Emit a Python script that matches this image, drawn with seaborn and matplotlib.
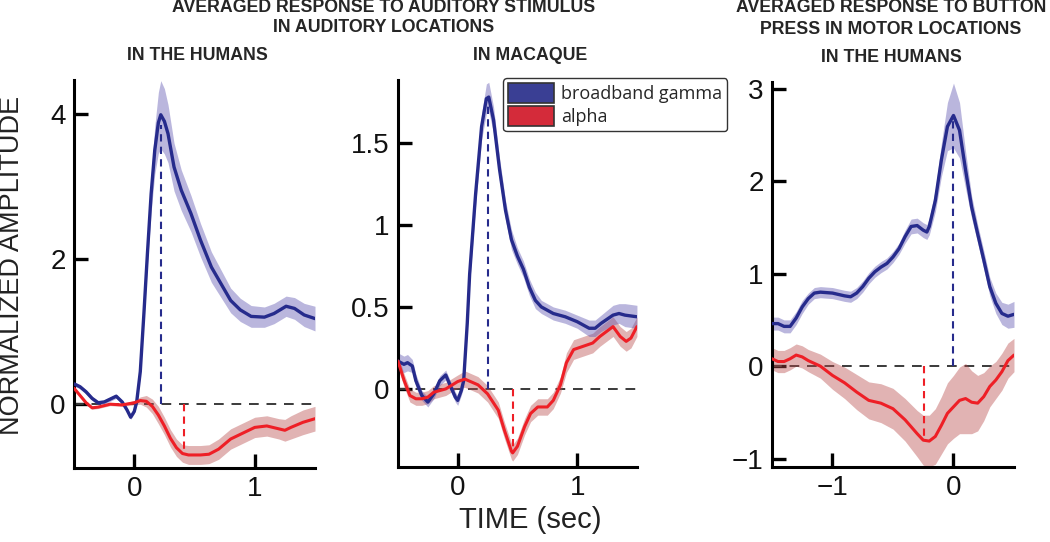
import matplotlib
matplotlib.use("Agg")
import matplotlib.pyplot as plt
from matplotlib.patches import Patch
import numpy as np
import pandas as pd
import seaborn as sns

# ---- data ----
# panel 1: auditory stimulus, humans
p1_gamma_t = [-0.5, -0.45, -0.4, -0.35, -0.3, -0.25, -0.2, -0.15, -0.1, -0.06, -0.03, 0.0,
              0.02, 0.05, 0.08, 0.11, 0.14, 0.17, 0.2, 0.22, 0.25, 0.28, 0.33, 0.39, 0.47,
              0.55, 0.64, 0.72, 0.8, 0.88, 0.97, 1.08, 1.16, 1.26, 1.33, 1.41, 1.5]
p1_gamma = [0.28, 0.24, 0.17, 0.08, 0.02, 0.03, 0.07, 0.11, 0.03, -0.08, -0.18, -0.1,
            0.03, 0.45, 1.25, 2.1, 2.9, 3.5, 3.88, 3.99, 3.9, 3.73, 3.27, 2.95, 2.63,
            2.26, 1.89, 1.66, 1.43, 1.30, 1.21, 1.20, 1.25, 1.35, 1.32, 1.23, 1.18]
p1_gamma_err = [0.03, 0.03, 0.03, 0.03, 0.03, 0.03, 0.03, 0.03, 0.03, 0.03, 0.03, 0.03,
                0.04, 0.06, 0.1, 0.16, 0.25, 0.33, 0.42, 0.47, 0.45, 0.4, 0.33, 0.28, 0.25,
                0.23, 0.21, 0.19, 0.17, 0.16, 0.15, 0.14, 0.14, 0.14, 0.15, 0.16, 0.17]
p1_alpha_t = [-0.5, -0.45, -0.4, -0.35, -0.3, -0.2, -0.1, 0.0, 0.05, 0.1, 0.15, 0.2, 0.25,
              0.3, 0.35, 0.4, 0.45, 0.55, 0.62, 0.7, 0.8, 0.9, 1.0, 1.1, 1.2, 1.25, 1.3,
              1.4, 1.5]
p1_alpha = [0.22, 0.12, 0.02, -0.05, -0.04, 0.0, -0.01, 0.02, 0.05, 0.04, -0.03, -0.15, -0.3,
            -0.47, -0.6, -0.68, -0.7, -0.7, -0.69, -0.62, -0.48, -0.4, -0.32, -0.3, -0.34,
            -0.36, -0.32, -0.25, -0.2]
p1_alpha_err = [0.02, 0.02, 0.02, 0.02, 0.02, 0.02, 0.02, 0.03, 0.05, 0.08, 0.1, 0.12, 0.12,
                0.12, 0.12, 0.12, 0.13, 0.13, 0.13, 0.14, 0.14, 0.14, 0.14, 0.14, 0.14,
                0.15, 0.16, 0.17, 0.17]
p1_peaks = {"gamma": (0.22, 3.85), "alpha": (0.41, -0.69)}

# panel 2: auditory stimulus, macaque
p2_gamma_t = [-0.5, -0.45, -0.42, -0.38, -0.35, -0.3, -0.25, -0.2, -0.15, -0.1, -0.05, -0.02,
              0.0, 0.03, 0.05, 0.08, 0.1, 0.15, 0.2, 0.24, 0.26, 0.3, 0.35, 0.4, 0.45, 0.5,
              0.55, 0.6, 0.65, 0.7, 0.8, 0.9, 1.0, 1.1, 1.15, 1.2, 1.3, 1.35, 1.4, 1.5]
p2_gamma = [0.17, 0.15, 0.16, 0.14, 0.05, -0.04, -0.08, -0.03, 0.05, 0.085, 0.0, -0.05,
            -0.07, -0.01, 0.05, 0.4, 0.7, 1.19, 1.6, 1.77, 1.78, 1.64, 1.34, 1.09, 0.91, 0.81,
            0.73, 0.62, 0.54, 0.5, 0.46, 0.44, 0.41, 0.37, 0.37, 0.4, 0.45, 0.46, 0.45, 0.44]
p2_gamma_err = [0.05, 0.05, 0.05, 0.04, 0.04, 0.03, 0.03, 0.03, 0.03, 0.03, 0.03, 0.03,
                0.03, 0.03, 0.04, 0.05, 0.06, 0.07, 0.08, 0.09, 0.09, 0.08, 0.07, 0.06, 0.06,
                0.05, 0.05, 0.05, 0.05, 0.04, 0.04, 0.04, 0.04, 0.05, 0.05, 0.05, 0.06, 0.06,
                0.07, 0.07]
p2_alpha_t = [-0.5, -0.45, -0.4, -0.35, -0.3, -0.25, -0.2, -0.1, 0.0, 0.06, 0.17, 0.25, 0.34,
              0.39, 0.45, 0.46, 0.5, 0.56, 0.61, 0.67, 0.75, 0.8, 0.86, 0.91, 0.97, 1.05,
              1.13, 1.19, 1.3, 1.36, 1.41, 1.45, 1.5]
p2_alpha = [0.17, 0.055, -0.04, -0.06, -0.06, -0.05, -0.02, 0.0, 0.045, 0.06, 0.025, -0.03,
            -0.13, -0.25, -0.38, -0.39, -0.35, -0.23, -0.15, -0.11, -0.11, -0.07, 0.025, 0.16,
            0.24, 0.26, 0.28, 0.32, 0.38, 0.32, 0.29, 0.31, 0.38]
p2_alpha_err = [0.04, 0.04, 0.04, 0.04, 0.04, 0.04, 0.04, 0.04, 0.04, 0.05, 0.05, 0.05, 0.05,
                0.05, 0.05, 0.05, 0.05, 0.05, 0.05, 0.05, 0.05, 0.05, 0.05, 0.06, 0.06, 0.06,
                0.06, 0.06, 0.06, 0.06, 0.06, 0.06, 0.06]
p2_peaks = {"gamma": (0.255, 1.75), "alpha": (0.46, -0.38)}

# panel 3: button press, humans
p3_gamma_t = [-1.5, -1.45, -1.4, -1.35, -1.3, -1.25, -1.2, -1.15, -1.1, -1.0, -0.9, -0.85,
              -0.8, -0.75, -0.7, -0.65, -0.6, -0.55, -0.5, -0.45, -0.4, -0.35, -0.3, -0.25,
              -0.22, -0.2, -0.15, -0.1, -0.05, 0.0, 0.05, 0.1, 0.15, 0.2, 0.25, 0.3, 0.35,
              0.4, 0.45, 0.5]
p3_gamma = [0.46, 0.46, 0.43, 0.43, 0.52, 0.64, 0.73, 0.79, 0.80, 0.79, 0.76, 0.75,
            0.79, 0.86, 0.95, 1.02, 1.07, 1.11, 1.18, 1.27, 1.4, 1.51, 1.52, 1.47,
            1.45, 1.51, 1.79, 2.23, 2.59, 2.71, 2.55, 2.12, 1.72, 1.43, 1.15, 0.86, 0.68,
            0.57, 0.54, 0.56]
p3_gamma_err = [0.07, 0.07, 0.07, 0.07, 0.07, 0.07, 0.06, 0.06, 0.06, 0.06, 0.06, 0.06,
                0.06, 0.06, 0.06, 0.06, 0.06, 0.06, 0.06, 0.06, 0.07, 0.08, 0.08, 0.08,
                0.08, 0.09, 0.12, 0.18, 0.26, 0.35, 0.3, 0.2, 0.12, 0.1, 0.1, 0.1, 0.11,
                0.12, 0.13, 0.14]
p3_alpha_t = [-1.5, -1.45, -1.4, -1.35, -1.3, -1.25, -1.2, -1.1, -1.0, -0.9, -0.8, -0.7,
              -0.6, -0.5, -0.4, -0.3, -0.25, -0.2, -0.15, -0.1, -0.05, 0.0, 0.05, 0.1, 0.15,
              0.2, 0.25, 0.3, 0.35, 0.4, 0.45, 0.5]
p3_alpha = [0.08, 0.05, 0.05, 0.08, 0.12, 0.10, 0.06, 0.0, -0.1, -0.18, -0.28, -0.37,
            -0.40, -0.46, -0.58, -0.73, -0.80, -0.81, -0.76, -0.64, -0.51, -0.44, -0.37,
            -0.35, -0.39, -0.40, -0.33, -0.22, -0.15, -0.06, 0.06, 0.12]
p3_alpha_err = [0.12, 0.12, 0.12, 0.12, 0.12, 0.12, 0.12, 0.13, 0.15, 0.17, 0.19, 0.2,
                0.21, 0.22, 0.23, 0.25, 0.27, 0.28, 0.3, 0.31, 0.33, 0.34, 0.36, 0.38, 0.34,
                0.3, 0.26, 0.22, 0.2, 0.2, 0.19, 0.18]
p3_peaks = {"gamma": (0.0, 2.65), "alpha": (-0.24, -0.8)}

labels = {"gamma": "broadband gamma", "alpha": "alpha"}

# ---- style ----
line_colors = {"gamma": "#262b8c", "alpha": "#ee1f26"}
fill_colors = {"gamma": "#5b52b0", "alpha": "#b84a4a"}
legend_colors = {"gamma": "#3a3f94", "alpha": "#d42b3a"}

sns.set_style("ticks")
plt.rcParams["font.family"] = ["Liberation Sans", "DejaVu Sans"]

fig = plt.figure(figsize=(10.5, 5.42), dpi=100)

panels = [
    dict(rect=[0.0705, 0.1365, 0.2295, 0.716], xlim=(-0.5, 1.5), ylim=(-0.88, 4.47),
         xticks=[0, 1], yticks=[0, 2, 4], ytl=["0", "2", "4"],
         gamma=(p1_gamma_t, p1_gamma, p1_gamma_err), alpha=(p1_alpha_t, p1_alpha, p1_alpha_err),
         peaks=p1_peaks),
    dict(rect=[0.379, 0.1384, 0.2276, 0.714], xlim=(-0.5, 1.5), ylim=(-0.476, 1.884),
         xticks=[0, 1], yticks=[0, 0.5, 1, 1.5], ytl=["0", "0.5", "1", "1.5"],
         gamma=(p2_gamma_t, p2_gamma, p2_gamma_err), alpha=(p2_alpha_t, p2_alpha, p2_alpha_err),
         peaks=p2_peaks),
    dict(rect=[0.7352, 0.1384, 0.2305, 0.710], xlim=(-1.5, 0.5), ylim=(-1.09, 3.07),
         xticks=[-1, 0], yticks=[-1, 0, 1, 2, 3], ytl=["\u22121", "0", "1", "2", "3"],
         gamma=(p3_gamma_t, p3_gamma, p3_gamma_err), alpha=(p3_alpha_t, p3_alpha, p3_alpha_err),
         peaks=p3_peaks),
]

for p in panels:
    ax = fig.add_axes(p["rect"])
    ax.axhline(0, color="#3a3a3a", lw=1.4, ls=(0, (5, 4)), zorder=1)
    for key in ["alpha", "gamma"]:
        t, m, e = (np.asarray(a) for a in p[key])
        ax.fill_between(t, m - e, m + e, color=fill_colors[key], alpha=0.42, lw=0, zorder=2)
    for key in ["gamma", "alpha"]:
        t, m, _ = p[key]
        df = pd.DataFrame({"time": t, "amp": m})
        sns.lineplot(data=df, x="time", y="amp", ax=ax, color=line_colors[key],
                     lw=2.4 if key == "gamma" else 2.2, zorder=4,
                     solid_joinstyle="round", solid_capstyle="round")
        px, py = p["peaks"][key]
        ax.plot([px, px], [0, py], color=line_colors[key], lw=1.5, ls=(0, (3.5, 2.5)), zorder=3)
    ax.set_xlim(*p["xlim"])
    ax.set_ylim(*p["ylim"])
    ax.set_xticks(p["xticks"])
    ax.set_xticklabels([str(v).replace("-", "\u2212") for v in p["xticks"]])
    ax.set_yticks(p["yticks"])
    ax.set_yticklabels(p["ytl"])
    ax.set_xlabel("")
    ax.set_ylabel("")
    sns.despine(ax=ax)
    for s in ["left", "bottom"]:
        ax.spines[s].set_linewidth(2.2)
        ax.spines[s].set_color("black")
    ax.tick_params(direction="in", length=10, width=2.4, labelsize=20, pad=6,
                   color="black", labelcolor="#111111")

# titles
title_kw = dict(fontsize=12.8, fontweight="bold", ha="center", va="center")
fig.text(384 / 1050, 1 - 7 / 542, "AVERAGED RESPONSE TO AUDITORY STIMULUS", **title_kw)
fig.text(384 / 1050, 1 - 28 / 542, "IN AUDITORY LOCATIONS", **title_kw)
fig.text(197 / 1050, 1 - 55 / 542, "IN THE HUMANS", **title_kw)
fig.text(530 / 1050, 1 - 55 / 542, "IN MACAQUE", **title_kw)
fig.text(891 / 1050, 1 - 8 / 542, "AVERAGED RESPONSE TO BUTTON", **title_kw)
fig.text(891 / 1050, 1 - 30 / 542, "PRESS IN MOTOR LOCATIONS", **title_kw)
fig.text(891 / 1050, 1 - 57 / 542, "IN THE HUMANS", **title_kw)

fig.text(12 / 1050, 1 - 265 / 542, "NORMALIZED AMPLITUDE", rotation=90, fontsize=19.5,
         ha="center", va="center", color="#222222")
fig.text(530 / 1050, 1 - 520 / 542, "TIME (sec)", fontsize=21, ha="center", va="center",
         color="#222222")

handles = [Patch(facecolor=legend_colors[k], edgecolor="#333333", lw=1.2, label=labels[k])
           for k in ["gamma", "alpha"]]
fig.legend(handles=handles, loc="upper left", bbox_to_anchor=(503 / 1050, 1 - 78 / 542),
           frameon=True, fancybox=True, edgecolor="#333333", framealpha=1,
           prop={"family": "Open Sans", "size": 13}, handlelength=2.5, handleheight=1.3,
           handletextpad=0.4, labelspacing=0.15, borderpad=0.3, borderaxespad=0)

fig.savefig("out.png", dpi=100)
